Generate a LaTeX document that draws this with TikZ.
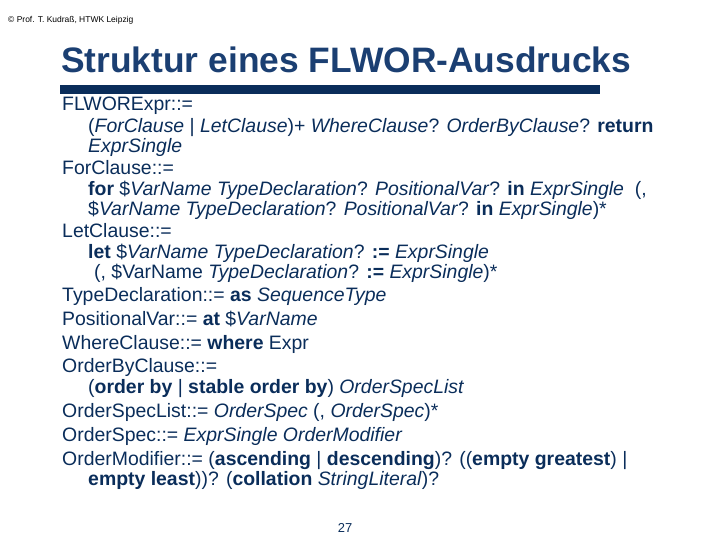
\documentclass[tikz,border=0pt]{standalone}
\usepackage{fontspec}
\setmainfont{Liberation Sans}
\definecolor{navy}{HTML}{0A2D5A}
\definecolor{ttl}{HTML}{1B3F72}
\begin{document}
\begin{tikzpicture}[x=1bp,y=-1bp,
  ln/.style={anchor=base west,inner sep=0,text=navy,font=\fontsize{19.5}{19.5}\selectfont}]
\useasboundingbox (0,0) rectangle (720,540);
\node[anchor=base west,inner sep=0,font=\fontsize{8.5}{8.5}\selectfont] (cp) at (8,23) {© Prof. T. Kudraß, HTWK Leipzig};
\node[anchor=base west,inner sep=0,text=ttl,font=\fontsize{35.5}{35.5}\bfseries] (title) at (61,73) {Struktur eines FLWOR-Ausdrucks};
\fill[navy] (60,85) rectangle (600,94);
\node[ln] (l1) at (62,111) {FLWORExpr::=};
\node[ln] (l2) at (88,133) {(\textit{ForClause} | \textit{LetClause})+ \textit{WhereClause}? \textit{OrderByClause}? \textbf{return}};
\node[ln] (l3) at (88,153) {\textit{ExprSingle}};
\node[ln] (l4) at (62,175) {ForClause::=};
\node[ln] (l5) at (88,196) {\textbf{for} \$\textit{VarName TypeDeclaration}? \textit{PositionalVar}? \textbf{in} \textit{ExprSingle}\ \ (,};
\node[ln] (l6) at (88,216) {\$\textit{VarName TypeDeclaration}? \textit{PositionalVar}? \textbf{in} \textit{ExprSingle})*};
\node[ln] (l7) at (62,238) {LetClause::=};
\node[ln] (l8) at (88,259) {\textbf{let} \$\textit{VarName TypeDeclaration}? \textbf{:=} \textit{ExprSingle}};
\node[ln] (l9) at (94,279) {(, \$VarName \textit{TypeDeclaration}? \textbf{:=} \textit{ExprSingle})*};
\node[ln] (l10) at (62,301) {TypeDeclaration::= \textbf{as} \textit{SequenceType}};
\node[ln] (l11) at (62,325) {PositionalVar::= \textbf{at} \$\textit{VarName}};
\node[ln] (l12) at (62,349) {WhereClause::= \textbf{where} Expr};
\node[ln] (l13) at (62,372) {OrderByClause::=};
\node[ln] (l14) at (88,393) {(\textbf{order by} | \textbf{stable order by}) \textit{OrderSpecList}};
\node[ln] (l15) at (62,417) {OrderSpecList::= \textit{OrderSpec} (, \textit{OrderSpec})*};
\node[ln] (l16) at (62,441) {OrderSpec::= \textit{ExprSingle OrderModifier}};
\node[ln] (l17) at (62,465) {OrderModifier::= (\textbf{ascending} | \textbf{descending})? ((\textbf{empty greatest}) |};
\node[ln] (l18) at (88,485) {\textbf{empty least}))? (\textbf{collation} \textit{StringLiteral})?};
\node[anchor=base,inner sep=0,text=navy,font=\fontsize{13}{13}\selectfont] (pg) at (345,532) {27};
\end{tikzpicture}
\end{document}
